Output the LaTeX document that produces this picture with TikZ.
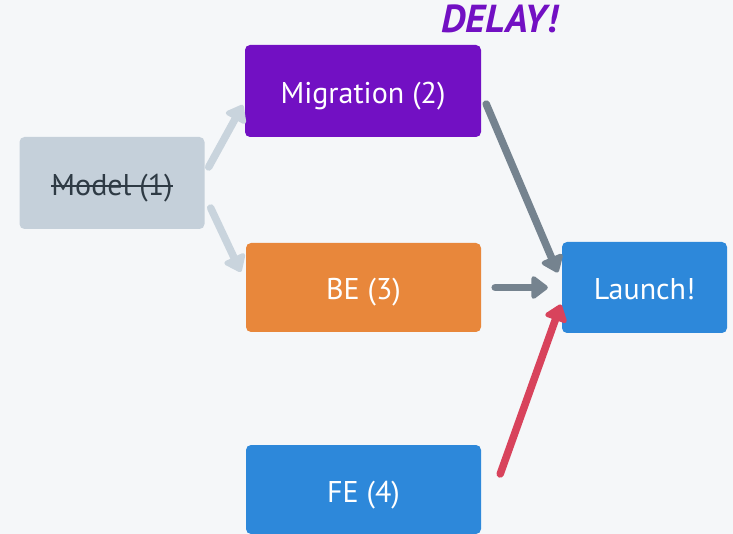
\documentclass[tikz,border=0pt]{standalone}
\usepackage{fontspec}
\setmainfont{PT Sans}
\usetikzlibrary{arrows.meta}
\definecolor{bgcol}{HTML}{F5F7F9}
\definecolor{modelcol}{HTML}{C5D0DA}
\definecolor{modeltext}{HTML}{2E3A44}
\definecolor{lightarrow}{HTML}{C9D4DD}
\definecolor{migcol}{HTML}{7210C3}
\definecolor{becol}{HTML}{E8873B}
\definecolor{bluecol}{HTML}{2D88DA}
\definecolor{grayarrow}{HTML}{75838F}
\definecolor{redarrow}{HTML}{D8435C}
\newcommand{\strikeout}[1]{\setbox0=\hbox{#1}\rlap{\rule[0.55ex]{\wd0}{1.8pt}}\box0}

\begin{document}
\begin{tikzpicture}[x=1pt, y=-1pt,
task/.style={rounded corners=5pt, inner sep=0pt, text=white, font=\fontsize{30}{34}\selectfont, text height=28pt, text depth=3pt, align=center},
link/.style={line width=7.5pt, line cap=round, -{Triangle[length=18pt, width=26pt, round]}},
]

% Background and page size
\fill[bgcol] (0,0) rectangle (733,534);
\useasboundingbox (0,0) rectangle (733,534);

% Define a grid using coordinates
\coordinate (grid1) at (112,183);     % Left
\coordinate (grid2) at (363,91);      % Top-center
\coordinate (grid3) at (363.5,287.5); % Middle-center
\coordinate (grid4) at (363.5,489.5); % Bottom-center
\coordinate (grid5) at (644.5,287.5); % Right

% Nodes at grid points
\node[task, fill=modelcol, text=modeltext, minimum width=185, minimum height=92] (model) at (grid1) {\strikeout{Model (1)}};
\node[task, fill=migcol, minimum width=236, minimum height=92] (mig) at (grid2) {Migration (2)};
\node[task, fill=becol, minimum width=235, minimum height=89] (be) at (grid3) {BE (3)};
\node[task, fill=bluecol, minimum width=235, minimum height=89] (fe) at (grid4) {FE (4)};
\node[task, fill=bluecol, minimum width=165, minimum height=91] (launch) at (grid5) {Launch!};

\node[text=migcol, font=\fontsize{39}{42}\selectfont\bfseries\itshape, anchor=south east, inner sep=0pt] (delay) at (558,33) {DELAY!};

% Draw connecting arrows
\draw[link, lightarrow] ([xshift=4pt, yshift=16pt]model.east) to ([xshift=-2pt, yshift=-14pt]mig.west);
\draw[link, lightarrow] ([xshift=6pt, yshift=-25pt]model.east) to ([xshift=-5pt, yshift=15.5pt]be.west);
\draw[link, grayarrow] ([xshift=5pt, yshift=-13pt]mig.east) to ([xshift=-4pt, yshift=15pt]launch.west);
\draw[link, grayarrow] ([xshift=14pt]be.east) to ([xshift=-14pt]launch.west);
\draw[link, redarrow] ([xshift=19pt, yshift=15.5pt]fe.east) to ([xshift=-1pt, yshift=-17pt]launch.west);

\end{tikzpicture}
\end{document}
